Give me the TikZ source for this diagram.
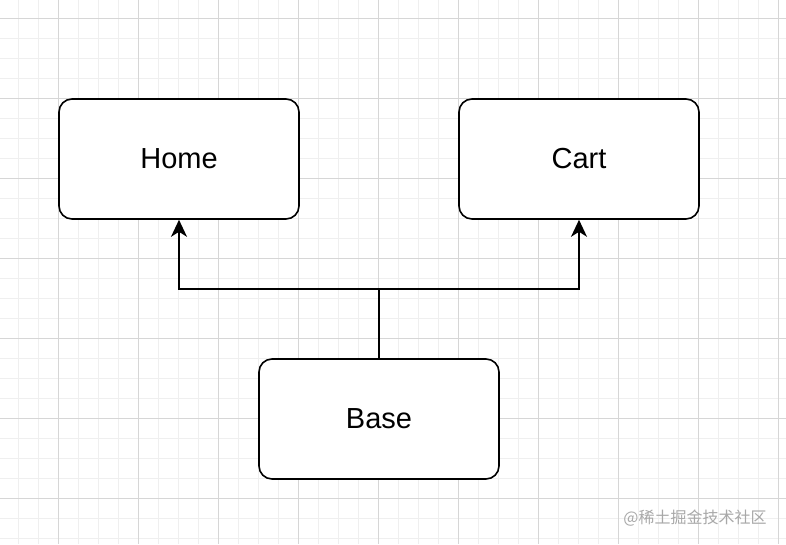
\documentclass[tikz,border=0pt]{standalone}
\usepackage{fontspec}
\setmainfont{Liberation Sans}
\newfontfamily\cjk{Noto Sans CJK SC}
\usetikzlibrary{arrows.meta}
\definecolor{minorgrid}{HTML}{EFEFEF}
\definecolor{majorgrid}{HTML}{D6D6D6}
\definecolor{markgray}{HTML}{A8A8A8}
\begin{document}
\begin{tikzpicture}[x=1pt, y=-1pt, line width=1.6pt,
  box/.style={draw, fill=white, rounded corners=13pt, minimum width=240pt, minimum height=120pt, font=\fontsize{29}{34}\selectfont},
  link/.style={-{Stealth[length=17pt, width=16pt, inset=5pt]}}]
	\useasboundingbox (0,0) rectangle (786,544);
	\fill[white] (0,0) rectangle (786,544);
	\foreach \x in {18,38,...,786} \draw[minorgrid, line width=1pt] (\x,0) -- (\x,544);
	\foreach \y in {18,38,...,544} \draw[minorgrid, line width=1pt] (0,\y) -- (786,\y);
	\foreach \x in {58,138,...,786} \draw[majorgrid, line width=1pt] (\x,0) -- (\x,544);
	\foreach \y in {18,98,...,544} \draw[majorgrid, line width=1pt] (0,\y) -- (786,\y);
	\node[box] (home) at (179,159) {Home};
	\node[box] (cart) at (579,159) {Cart};
	\node[box] (base) at (379,419) {Base};
	\coordinate (fork) at (379,289);
	\draw[link] (base.north) -- (fork) -| (home.south);
	\draw[link] (fork) -| (cart.south);
	\node[text=markgray, font=\cjk\fontsize{16}{18}\selectfont] (mark) at (695,518) {@稀土掘金技术社区};
\end{tikzpicture}
\end{document}
